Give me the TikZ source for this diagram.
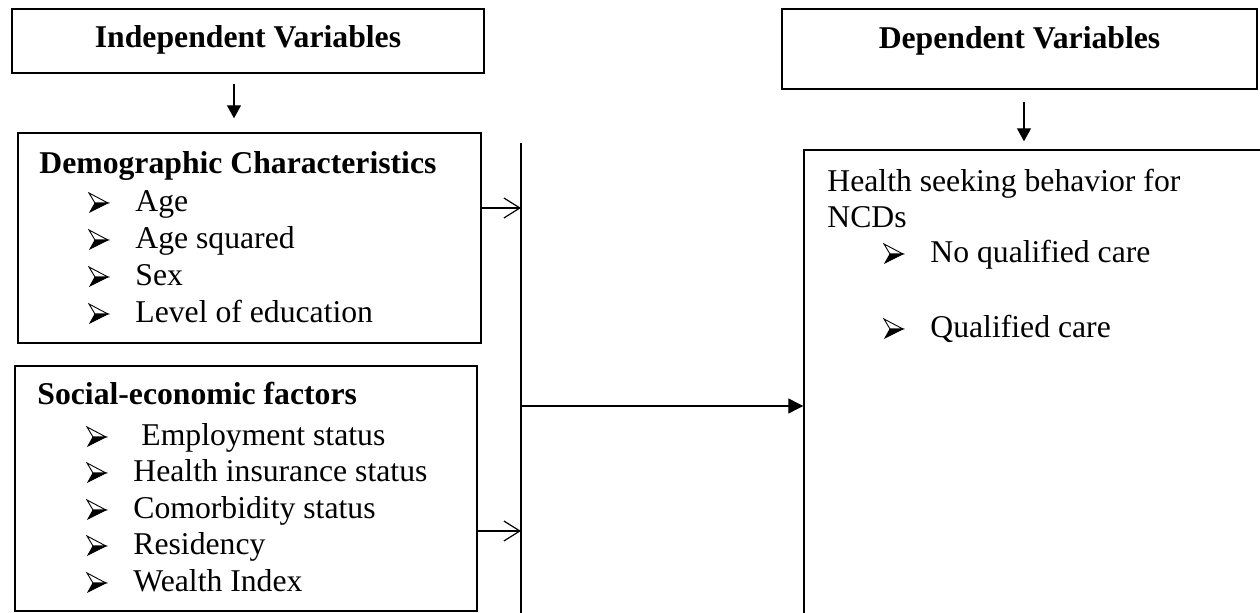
\documentclass[tikz,border=0pt]{standalone}
\usepackage{fontspec}
\setmainfont{Liberation Serif}
\usetikzlibrary{arrows.meta,fit}
\begin{document}
\begin{tikzpicture}[x=0.5pt,y=-0.5pt,
  box/.style={draw,line width=0.7pt,inner sep=0pt},
  ttl/.style={font=\fontsize{15.85}{19}\selectfont\bfseries,inner sep=0pt,anchor=base},
  ttlw/.style={font=\fontsize{15.85}{19}\selectfont\bfseries,inner sep=0pt,anchor=base west},
  itm/.style={font=\fontsize{15.85}{19}\selectfont,inner sep=0pt,anchor=base west},
  conn/.style={line width=0.6pt},
  downarrow/.style={conn,-{Triangle[length=6.5pt,width=7pt]}},
  fillarrow/.style={conn,-{Triangle[length=7.5pt,width=7.5pt]}},
  openarrow/.style={conn,-{Straight Barb[length=8pt,width=10pt,line width=0.6pt]}},
  bul/.pic={
    \draw[line width=0.45pt,fill=white,line join=miter] (0,-19) -- (19,-9) -- (6,-9) -- cycle;
    \fill (6,-9) -- (19,-9) -- (1,0) -- cycle;
    \draw[line width=0.45pt,line join=miter] (6,-9) -- (19,-9) -- (1,0) -- cycle;
  }
]
\path[use as bounding box] (0,0) rectangle (1260,613);
\clip (0,0) rectangle (1260,613);

% header boxes
\node[box,fit={(12,9) (484,73)}] (indep) {};
\node[ttl] (indeptxt) at (248,48) {Independent Variables};
\node[box,fit={(782,9) (1257,89)}] (dep) {};
\node[ttl] (deptxt) at (1019.5,49) {Dependent Variables};

% main boxes
\node[box,fit={(18,133) (481,343)}] (demo) {};
\node[box,fit={(15,366) (477,611)}] (socio) {};
\node[box,fit={(804,150) (1300,700)}] (hsb) {};

% demographic content
\node[ttlw] (demot) at (39,174) {Demographic Characteristics};
\node[itm] (d1) at (135,212) {Age};
\node[itm] (d2) at (135,249) {Age squared};
\node[itm] (d3) at (135,286) {Sex};
\node[itm] (d4) at (135,323) {Level of education};
\foreach \y in {212,249,286,323} \pic at (89,\y) {bul};

% socio-economic content
\node[ttlw] (sociot) at (37,405) {Social-economic factors};
\node[itm] (s1) at (141,446) {Employment status};
\node[itm] (s2) at (133,482) {Health insurance status};
\node[itm] (s3) at (133,519) {Comorbidity status};
\node[itm] (s4) at (133,555) {Residency};
\node[itm] (s5) at (133,592) {Wealth Index};
\foreach \y in {446,482,519,555,592} \pic at (87,\y) {bul};

% dependent content
\node[itm] (h1) at (827,192) {Health seeking behavior for};
\node[itm] (h2) at (827,228) {NCDs};
\node[itm] (h3) at (930,263) {No qualified care};
\node[itm] (h4) at (930,338) {Qualified care};
\foreach \y in {263,338} \pic at (884,\y) {bul};

% connectors
\coordinate (bartop) at (521,143);
\coordinate (barbot) at (521,613);
\draw[conn] (bartop) -- (barbot);
\draw[downarrow,shorten <=5pt,shorten >=7pt] (234,0 |- indep.south) -- (234,0 |- demo.north);
\draw[downarrow,shorten <=6pt,shorten >=4pt] (1024,0 |- dep.south) -- (1024,0 |- hsb.north);
\draw[openarrow] (demo.east |- 0,208) -- (bartop |- 0,208);
\draw[openarrow] (socio.east |- 0,531) -- (bartop |- 0,531);
\draw[fillarrow] (bartop |- 0,406) -- (hsb.west |- 0,406);
\end{tikzpicture}
\end{document}
